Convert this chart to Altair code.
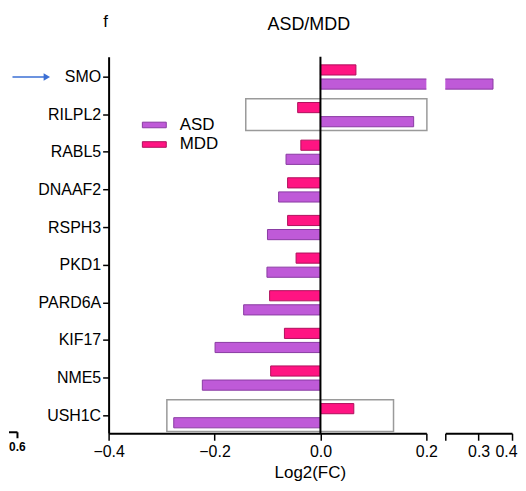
import altair as alt
import pandas as pd

genes = ["SMO", "RILPL2", "RABL5", "DNAAF2", "RSPH3", "PKD1", "PARD6A", "KIF17", "NME5", "USH1C"]
asd = [0.343, 0.176, -0.065, -0.079, -0.100, -0.101, -0.145, -0.199, -0.223, -0.277]
mdd = [0.067, -0.043, -0.037, -0.062, -0.062, -0.046, -0.096, -0.068, -0.094, 0.063]
group_names = ["ASD", "MDD"]
group_fill = ["#BF5AD8", "#FF1482"]
group_stroke = ["#8A3BA3", "#B0105C"]
box_genes = ["RILPL2", "USH1C"]
box_start = [-0.141, -0.290]
box_end = [0.201, 0.138]
left_ticks = [-0.4, -0.2, 0.0, 0.2]
right_ticks = [0.2, 0.3, 0.4]
arrow_gene = ["SMO"]

FONT = "Liberation Sans"

rows = []
for g, a, m in zip(genes, asd, mdd):
    rows.append({"gene": g, "group": "MDD", "value": m, "zero": 0.0})
    rows.append({"gene": g, "group": "ASD", "value": a, "zero": 0.0})
df = pd.DataFrame(rows)
boxes = pd.DataFrame({"gene": box_genes, "x1": box_start, "x2": box_end})
arrow_df = pd.DataFrame({"gene": arrow_gene})

yscale = alt.Scale(domain=genes, paddingInner=0.355, paddingOuter=0.18, align=0.6)
offscale = alt.Scale(domain=["MDD", "ASD"], paddingInner=0.28, paddingOuter=0)
fill_scale = alt.Scale(domain=group_names, range=group_fill)
stroke_scale = alt.Scale(domain=group_names, range=group_stroke)

legend = alt.Legend(
    title=None, orient="none", legendX=35.4, legendY=58, padding=0,
    symbolType="M-1.2,-0.28H1.2V0.28H-1.2Z", symbolSize=400, symbolStrokeWidth=1,
    labelFontSize=17, labelFont=FONT, labelColor="black", labelOffset=15, rowPadding=0.6,
)

yaxis = alt.Axis(
    title=None, labelFontSize=16, labelFont=FONT, labelColor="black", tickSize=6,
    tickWidth=1.5, tickColor="black", domainColor="black", domainWidth=2,
    labelPadding=2, grid=False,
)

xleft_scale = alt.Scale(domain=[-0.4, 0.2], nice=False, zero=False)
xleft_axis = alt.Axis(
    values=left_ticks, format=".1f", labelFontSize=16, labelFont=FONT, labelColor="black",
    tickSize=7, tickWidth=1.5, tickColor="black", domainColor="black", domainWidth=2,
    title="Log2(FC)", titleFontSize=17, titleFont=FONT, titleFontWeight="normal",
    titleColor="black", titleX=202, titlePadding=5, grid=False, labelFlush=False,
    labelPadding=3,
)

base_y = alt.Y("gene:N", scale=yscale, sort=genes, axis=yaxis)

box_layer = alt.Chart(boxes).mark_bar(
    fillOpacity=0, stroke="#9a9a9a", strokeWidth=1.5, height={"band": 1.31}
).encode(
    y=base_y,
    x=alt.X("x1:Q", scale=xleft_scale, axis=xleft_axis),
    x2="x2:Q",
)

bars_left = alt.Chart(df).mark_bar(clip=True, strokeWidth=1).encode(
    y=base_y,
    yOffset=alt.YOffset("group:N", scale=offscale, sort=["MDD", "ASD"]),
    x=alt.X("value:Q", scale=xleft_scale, axis=xleft_axis),
    x2="zero:Q",
    fill=alt.Fill("group:N", scale=fill_scale, legend=legend),
    stroke=alt.Stroke("group:N", scale=stroke_scale, legend=legend),
)

zero_rule = alt.Chart(pd.DataFrame({"z": [0.0]})).mark_rule(color="black", strokeWidth=2).encode(
    x=alt.X("z:Q", scale=xleft_scale, axis=xleft_axis)
)

title_text = alt.Chart(pd.DataFrame({"t": ["ASD/MDD"]})).mark_text(
    fontSize=18, font=FONT, color="black", baseline="alphabetic", align="center"
).encode(x=alt.value(201), y=alt.value(-27), text="t:N")

panel_text = alt.Chart(pd.DataFrame({"t": ["f"]})).mark_text(
    fontSize=17, font=FONT, color="black", baseline="alphabetic", align="center"
).encode(x=alt.value(-3), y=alt.value(-30), text="t:N")

arrow_line = alt.Chart(arrow_df).mark_rule(color="#3B6FD4", strokeWidth=1.5).encode(
    y=alt.Y("gene:N", scale=yscale, sort=genes, axis=yaxis),
    x=alt.value(-96.5), x2=alt.value(-63),
)
arrow_head = alt.Chart(arrow_df).mark_point(
    shape="triangle-right", filled=True, color="#3B6FD4", size=55, opacity=1
).encode(
    y=alt.Y("gene:N", scale=yscale, sort=genes, axis=yaxis),
    x=alt.value(-62),
)

side_label = alt.Chart(pd.DataFrame({"t": ["0.6"]})).mark_text(
    fontSize=12, font=FONT, fontWeight="bold", color="black", align="left", baseline="middle"
).encode(x=alt.value(-100), y=alt.value(392), text="t:N")
side_h = alt.Chart(pd.DataFrame({"t": ["a"]})).mark_rule(color="black", strokeWidth=2).encode(
    x=alt.value(-100), x2=alt.value(-91.5), y=alt.value(377)
)
side_v = alt.Chart(pd.DataFrame({"t": ["a"]})).mark_rule(color="black", strokeWidth=2).encode(
    x=alt.value(-91.5), y=alt.value(377), y2=alt.value(383)
)

left = alt.layer(
    box_layer, bars_left, zero_rule, title_text, panel_text, arrow_line, arrow_head,
    side_label, side_h, side_v,
).properties(width=319, height=378)

xright_scale = alt.Scale(domain=[0.2, 0.4], nice=False, zero=False)
xright_axis = alt.Axis(
    values=right_ticks, labelExpr="datum.value < 0.25 ? '' : format(datum.value, '.1f')",
    labelFontSize=16, labelFont=FONT, labelColor="black", tickSize=7, tickWidth=1.5,
    tickColor="black", domainColor="black", domainWidth=2, title=None, grid=False,
    labelFlush=False, labelPadding=3,
    labelOffset={"condition": {"test": "datum.value > 0.35", "value": -6}, "value": 0},
)

right = alt.Chart(df).mark_bar(clip=True, strokeWidth=1).encode(
    y=alt.Y("gene:N", scale=yscale, sort=genes, axis=None),
    yOffset=alt.YOffset("group:N", scale=offscale, sort=["MDD", "ASD"]),
    x=alt.X("value:Q", scale=xright_scale, axis=xright_axis),
    x2="zero:Q",
    fill=alt.Fill("group:N", scale=fill_scale, legend=None),
    stroke=alt.Stroke("group:N", scale=stroke_scale, legend=None),
).properties(width=67, height=378)

chart = alt.hconcat(left, right, spacing=19, bounds="flush").resolve_scale(
    x="independent", y="shared", fill="independent", stroke="independent"
).properties(
    padding={"left": 0, "top": 4, "right": 0, "bottom": 0}
).configure_view(stroke=None)

chart.save("out.html", embed_options={"renderer": "svg", "actions": False})
